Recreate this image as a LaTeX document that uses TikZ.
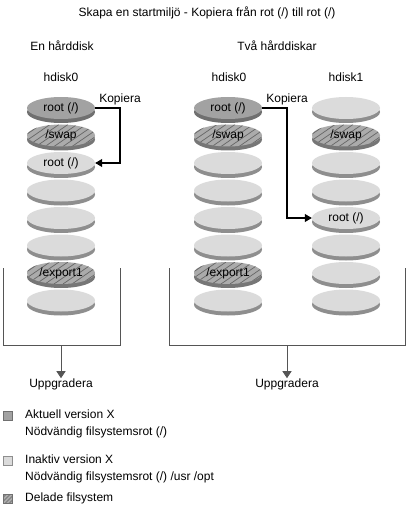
\documentclass[tikz,border=0pt]{standalone}
\usepackage{fontspec}
\setmainfont{Liberation Sans}
\usetikzlibrary{arrows.meta,shapes.geometric,shadows}
\definecolor{darktop}{HTML}{A2A2A2}
\definecolor{darkrim}{HTML}{707070}
\definecolor{lighttop}{HTML}{DBDBDB}
\definecolor{lightrim}{HTML}{8E8E8E}
\definecolor{hatchtop}{HTML}{ABABAB}
\definecolor{hatchline}{HTML}{666666}
\definecolor{hatchrim}{HTML}{767676}
\definecolor{linegray}{HTML}{555555}
\tikzset{
  txt/.style={font=\fontsize{12bp}{14bp}\selectfont, inner sep=0pt},
  disk/.style={ellipse, minimum width=68bp, minimum height=22bp, inner sep=0pt,
    font=\fontsize{12bp}{14bp}\selectfont},
  curdisk/.style={disk, fill=darktop,
    drop shadow={shadow xshift=0bp, shadow yshift=-4bp, opacity=1, fill=darkrim}},
  inactdisk/.style={disk, fill=lighttop,
    drop shadow={shadow xshift=0bp, shadow yshift=-4bp, opacity=1, fill=lightrim}},
  shareddisk/.style={disk, fill=hatchtop,
    drop shadow={shadow xshift=0bp, shadow yshift=-4bp, opacity=1, fill=hatchrim},
    path picture={
      \foreach \i in {-63,-54,...,63}
        \draw[hatchline, line width=0.7bp]
          ([xshift=\i bp]path picture bounding box.center) +(-16bp,-11bp) -- +(16bp,11bp);
    }},
  copyline/.style={line width=1.1bp, black, -{Triangle[length=7bp,width=8bp]}},
  uparrow/.style={line width=0.9bp, linegray, -{Triangle[length=7bp,width=9bp]}},
  boxline/.style={line width=0.9bp, linegray},
  legbox/.style={minimum width=9bp, minimum height=9bp, inner sep=0pt, draw=darkrim, line width=0.6bp},
}
\begin{document}
\begin{tikzpicture}[x=1bp, y=-1bp]
\useasboundingbox (0,0) rectangle (406,507);
% title
\node[txt] (title) at (207,13) {Skapa en startmiljö - Kopiera från rot (/) till rot (/)};
\node[txt] (one) at (62,46) {En hårddisk};
\node[txt] (two) at (277,46) {Två hårddiskar};
\node[txt] (hl0) at (61,77) {hdisk0};
\node[txt] (hr0) at (229,77) {hdisk0};
\node[txt] (hr1) at (346,77) {hdisk1};
% left disk stack
\node[curdisk]    (L0) at (61,108)   {root (/)};
\node[shareddisk] (L1) at (61,135.5) {/swap};
\node[inactdisk]  (L2) at (61,163)   {root (/)};
\node[inactdisk]  (L3) at (61,190.5) {};
\node[inactdisk]  (L4) at (61,218)   {};
\node[inactdisk]  (L5) at (61,245.5) {};
\node[shareddisk] (L6) at (61,273)   {/export1};
\node[inactdisk]  (L7) at (61,300.5) {};
% right hdisk0
\node[curdisk]    (R0) at (228,108)   {root (/)};
\node[shareddisk] (R1) at (228,135.5) {/swap};
\node[inactdisk]  (R2) at (228,163)   {};
\node[inactdisk]  (R3) at (228,190.5) {};
\node[inactdisk]  (R4) at (228,218)   {};
\node[inactdisk]  (R5) at (228,245.5) {};
\node[shareddisk] (R6) at (228,273)   {/export1};
\node[inactdisk]  (R7) at (228,300.5) {};
% right hdisk1
\node[inactdisk]  (H0) at (346,108)   {};
\node[shareddisk] (H1) at (346,135.5) {/swap};
\node[inactdisk]  (H2) at (346,163)   {};
\node[inactdisk]  (H3) at (346,190.5) {};
\node[inactdisk]  (H4) at (346,218)   {root (/)};
\node[inactdisk]  (H5) at (346,245.5) {};
\node[inactdisk]  (H6) at (346,273)   {};
\node[inactdisk]  (H7) at (346,300.5) {};
% copy arrows
\node[txt] (kl) at (120,99) {Kopiera};
\node[txt] (kr) at (287,99) {Kopiera};
\draw[copyline] (L0.east) -- (120,108) |- (L2.east);
\draw[copyline] (R0.east) -- (287,108) |- (H4.west);
% containers
\draw[boxline] (3,268) |- (120,345) -- (120,268);
\draw[boxline] (169,268) |- (405,345) -- (405,268);
\coordinate (lb) at (61,345);
\coordinate (rb) at (287,345);
\node[txt] (ul) at (61,384) {Uppgradera};
\node[txt] (ur) at (287,384) {Uppgradera};
\draw[uparrow] (lb) -- (ul.north);
\draw[uparrow] (rb) -- (ur.north);
% legend
\node[legbox, fill=darktop] (k1) at (7.5,416) {};
\node[legbox, fill=lighttop, draw=lightrim] (k2) at (7.5,461) {};
\node[legbox, fill=hatchtop, path picture={
  \foreach \i in {-6,-2,...,6}
    \draw[hatchline, line width=0.5bp]
      ([xshift=\i bp]path picture bounding box.center) +(-6bp,-6bp) -- +(6bp,6bp);}] (k3) at (7.5,499) {};
\node[txt, anchor=west] (t1a) at (25,414) {Aktuell version X};
\node[txt, anchor=west] (t1b) at (25,432) {Nödvändig filsystemsrot (/)};
\node[txt, anchor=west] (t2a) at (25,459) {Inaktiv version X};
\node[txt, anchor=west] (t2b) at (25,477) {Nödvändig filsystemsrot (/) /usr /opt};
\node[txt, anchor=west] (t3) at (25,498) {Delade filsystem};
\end{tikzpicture}
\end{document}
